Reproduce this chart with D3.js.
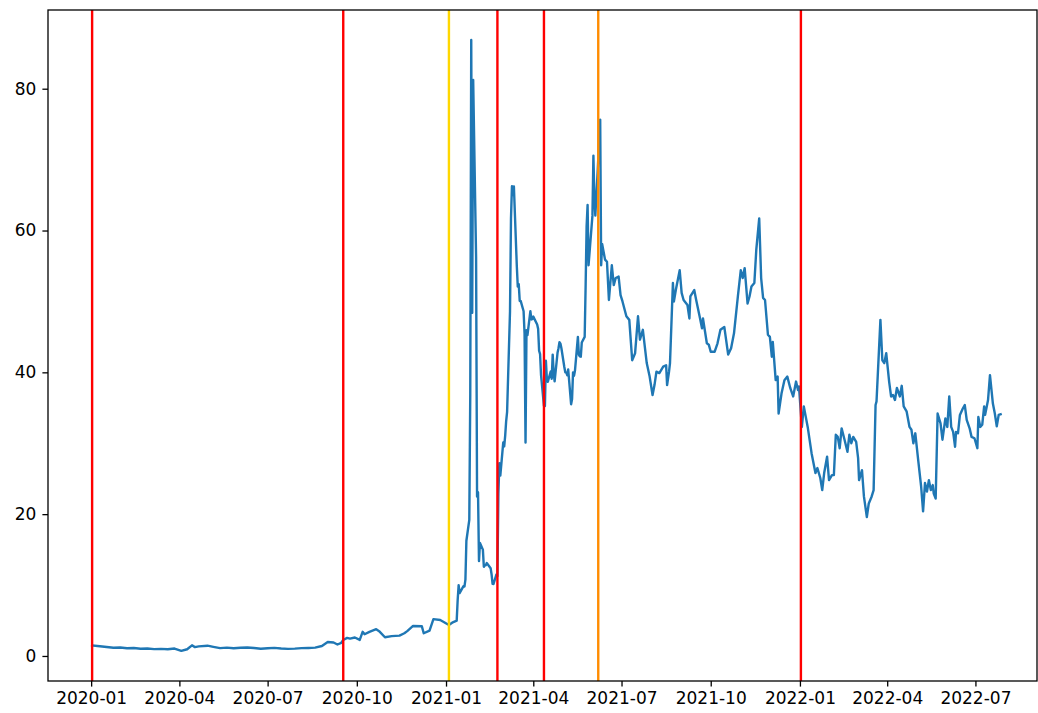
<!DOCTYPE html>
<html>
<head>
<meta charset="utf-8">
<script src="https://cdn.jsdelivr.net/npm/d3@7"></script>
<style>
  html, body { margin: 0; padding: 0; background: #ffffff; }
  svg { display: block; }
  .tick text { font-family: "DejaVu Sans", sans-serif; font-size: 17px; fill: #000; }
</style>
</head>
<body>
<svg id="chart" width="1038" height="713"></svg>
<script>
// Daily closing price (split-adjusted), sampled
const dates = [
  "2020-01-02","2020-01-10","2020-01-17","2020-01-24","2020-01-31","2020-02-07","2020-02-14","2020-02-21","2020-02-28",
  "2020-03-06","2020-03-13","2020-03-20","2020-03-27",
  "2020-04-03","2020-04-09","2020-04-14","2020-04-17","2020-04-21","2020-04-30","2020-05-06","2020-05-13","2020-05-20",
  "2020-05-27","2020-06-03","2020-06-10","2020-06-17","2020-06-24",
  "2020-07-01","2020-07-08","2020-07-15","2020-07-22","2020-07-29","2020-08-05","2020-08-12","2020-08-19","2020-08-26",
  "2020-09-01","2020-09-07","2020-09-11","2020-09-15","2020-09-17",
  "2020-09-21","2020-09-24","2020-09-29","2020-10-04","2020-10-07","2020-10-09","2020-10-14","2020-10-21","2020-10-24",
  "2020-10-30","2020-11-06","2020-11-14","2020-11-19","2020-11-22","2020-11-28","2020-12-07","2020-12-09","2020-12-15",
  "2020-12-19","2020-12-26","2021-01-04","2021-01-08","2021-01-12","2021-01-13","2021-01-14","2021-01-15","2021-01-19",
  "2021-01-20","2021-01-21","2021-01-22","2021-01-25","2021-01-26","2021-01-27","2021-01-28","2021-01-29","2021-02-01",
  "2021-02-02","2021-02-03","2021-02-04","2021-02-05","2021-02-08","2021-02-09","2021-02-10","2021-02-11","2021-02-12",
  "2021-02-16","2021-02-17","2021-02-18","2021-02-19","2021-02-22","2021-02-23","2021-02-24","2021-02-25","2021-02-26",
  "2021-03-01","2021-03-02","2021-03-03","2021-03-04","2021-03-05","2021-03-08","2021-03-09","2021-03-10","2021-03-11",
  "2021-03-12","2021-03-15","2021-03-16","2021-03-17","2021-03-18","2021-03-19","2021-03-22","2021-03-23","2021-03-24",
  "2021-03-25","2021-03-26","2021-03-29","2021-03-30","2021-03-31","2021-04-01","2021-04-05","2021-04-06","2021-04-07",
  "2021-04-08","2021-04-09","2021-04-12","2021-04-13","2021-04-14","2021-04-15","2021-04-16","2021-04-19","2021-04-20",
  "2021-04-21","2021-04-22","2021-04-23","2021-04-26","2021-04-27","2021-04-28","2021-04-29","2021-04-30","2021-05-03",
  "2021-05-04","2021-05-05","2021-05-06","2021-05-07","2021-05-10","2021-05-11","2021-05-12","2021-05-13","2021-05-14",
  "2021-05-17","2021-05-18","2021-05-19","2021-05-20","2021-05-21","2021-05-24","2021-05-25","2021-05-26","2021-05-27",
  "2021-05-28","2021-06-01","2021-06-02","2021-06-03","2021-06-04","2021-06-07","2021-06-08","2021-06-09","2021-06-10",
  "2021-06-11","2021-06-14","2021-06-16","2021-06-18","2021-06-21","2021-06-23","2021-06-25","2021-06-28","2021-06-30",
  "2021-07-02","2021-07-06","2021-07-09","2021-07-12","2021-07-15","2021-07-18","2021-07-20","2021-07-23","2021-07-27",
  "2021-07-30","2021-08-02","2021-08-04","2021-08-06","2021-08-09","2021-08-13","2021-08-16","2021-08-17","2021-08-19",
  "2021-08-20","2021-08-23","2021-08-24","2021-08-26","2021-08-30","2021-09-01","2021-09-03","2021-09-07","2021-09-09",
  "2021-09-10","2021-09-14","2021-09-16","2021-09-20","2021-09-22","2021-09-23","2021-09-27","2021-09-29","2021-10-01",
  "2021-10-05","2021-10-08","2021-10-11","2021-10-15","2021-10-19","2021-10-22","2021-10-25","2021-10-29","2021-11-01",
  "2021-11-03","2021-11-05","2021-11-08","2021-11-10","2021-11-12","2021-11-15","2021-11-17","2021-11-20","2021-11-22",
  "2021-11-24","2021-11-26","2021-11-29","2021-12-01","2021-12-03","2021-12-04","2021-12-07","2021-12-09","2021-12-10",
  "2021-12-13","2021-12-16","2021-12-19","2021-12-22","2021-12-25","2021-12-28","2021-12-30","2021-12-31","2022-01-03",
  "2022-01-05","2022-01-09","2022-01-13","2022-01-17","2022-01-19","2022-01-22","2022-01-24","2022-01-26","2022-01-29",
  "2022-01-31","2022-02-03","2022-02-05","2022-02-07","2022-02-09","2022-02-11","2022-02-13","2022-02-16","2022-02-19",
  "2022-02-21","2022-02-23","2022-02-25","2022-02-28","2022-03-02","2022-03-03","2022-03-06","2022-03-08","2022-03-11",
  "2022-03-13","2022-03-16","2022-03-18","2022-03-20","2022-03-21","2022-03-25","2022-03-27","2022-03-29","2022-03-31",
  "2022-04-03","2022-04-05","2022-04-07","2022-04-09","2022-04-11","2022-04-14","2022-04-16","2022-04-18","2022-04-21",
  "2022-04-24","2022-04-26","2022-04-28","2022-04-30","2022-05-03","2022-05-06","2022-05-08","2022-05-10","2022-05-12",
  "2022-05-14","2022-05-16","2022-05-18","2022-05-19","2022-05-21","2022-05-23","2022-05-26","2022-05-28","2022-05-31",
  "2022-06-02","2022-06-04","2022-06-06","2022-06-08","2022-06-10","2022-06-11","2022-06-13","2022-06-15","2022-06-18",
  "2022-06-20","2022-06-22","2022-06-25","2022-06-27","2022-06-30","2022-07-03","2022-07-04","2022-07-06","2022-07-08",
  "2022-07-10","2022-07-11","2022-07-14","2022-07-16","2022-07-19","2022-07-21","2022-07-23","2022-07-25","2022-07-27"
];
const prices = [
  1.50,1.38,1.27,1.15,1.20,1.08,1.12,1.02,1.05,
  0.96,1.00,0.95,1.05,
  0.72,0.95,1.50,1.25,1.35,1.45,1.28,1.10,1.18,
  1.08,1.15,1.20,1.12,1.02,
  1.08,1.14,1.05,1.00,1.03,1.10,1.13,1.18,1.40,
  1.97,1.90,1.62,1.86,2.26,
  2.55,2.45,2.60,2.26,3.40,3.06,3.40,3.77,3.50,
  2.64,2.80,2.87,3.20,3.50,4.23,4.20,3.20,3.57,
  5.20,5.07,4.37,4.75,4.99,7.85,9.98,8.87,9.84,
  9.78,10.76,16.25,19.20,36.99,86.88,48.40,81.25,56.25,
  22.50,23.10,13.38,15.94,15.00,12.58,12.80,12.78,13.10,
  12.38,11.49,10.17,10.15,11.50,11.24,22.93,27.18,25.44,
  30.10,29.55,31.05,33.09,34.44,48.63,61.73,66.25,65.01,
  66.20,55.00,52.09,52.45,50.07,50.07,48.62,45.44,30.09,
  45.94,45.25,48.62,47.46,47.50,47.86,46.74,46.13,43.05,
  42.57,39.59,35.27,35.25,41.63,39.11,38.67,40.13,39.10,
  42.50,40.00,38.72,42.75,43.40,44.25,44.05,43.40,40.75,
  40.00,40.00,39.60,40.40,35.50,36.25,40.00,39.50,40.25,
  45.00,42.50,42.25,42.20,44.20,45.00,52.35,60.64,63.60,
  55.10,62.10,70.56,64.55,62.10,70.00,75.00,75.64,55.10,
  58.10,55.90,55.60,50.20,55.10,52.30,53.30,53.50,50.90,
  50.00,47.90,47.40,41.70,42.70,47.90,44.60,46.00,41.30,
  39.40,36.80,38.20,40.10,39.90,40.80,41.00,38.20,40.10,
  41.30,52.60,50.00,51.60,54.40,51.20,50.20,49.50,47.60,
  50.70,51.60,50.20,47.60,46.20,47.60,44.10,43.90,42.90,
  42.90,44.10,46.00,46.40,42.50,43.40,45.50,50.70,54.40,
  53.30,54.70,49.70,50.70,52.10,52.60,57.30,61.70,53.30,
  50.50,50.20,45.30,45.00,42.20,44.30,38.90,39.40,34.20,
  37.00,38.90,39.40,37.80,36.60,38.70,37.50,38.00,32.30,
  35.20,32.30,28.60,25.80,26.50,25.10,23.40,25.80,28.10,
  24.80,25.50,25.50,31.20,30.90,29.30,32.10,30.50,28.80,
  31.20,30.00,30.90,30.20,27.90,24.80,26.20,22.50,19.60,
  21.50,22.50,23.40,35.40,35.90,47.40,41.70,41.30,42.70,
  38.70,36.60,36.80,36.10,37.80,36.60,38.10,35.20,34.50,
  32.30,31.90,30.00,31.40,27.60,23.90,20.40,24.40,23.20,
  24.80,23.40,24.10,22.90,22.20,34.20,32.80,30.50,33.50,
  32.30,36.60,32.30,31.60,29.50,31.60,31.40,34.00,34.90,
  35.40,33.30,32.10,30.90,30.70,29.30,33.70,32.30,32.60,
  35.20,34.00,36.10,39.60,35.60,34.20,32.40,34.00,34.10
];

// Marked event dates and their colours
const eventDates  = ["2020-01-02","2020-09-17","2021-01-04","2021-02-23","2021-04-12","2021-06-07","2022-01-02"];
const eventColors = ["#ff0000","#ff0000","#ffd700","#ff0000","#ff0000","#ff8c00","#ff0000"];

const yTicks = [0, 20, 40, 60, 80];
const xTicks = ["2020-01-01","2020-04-01","2020-07-01","2020-10-01","2021-01-01","2021-04-01",
                "2021-07-01","2021-10-01","2022-01-01","2022-04-01","2022-07-01"];

const parse = d3.utcParse("%Y-%m-%d");
const n = Math.min(dates.length, prices.length);
const series = d3.range(n).map(i => ({ date: parse(dates[i]), value: prices[i] }));

const svg = d3.select("#chart");
const plotL = 48, plotR = 1037, plotT = 10, plotB = 681;

const x = d3.scaleUtc()
  .domain([new Date(Date.UTC(2019, 10, 17, 12)), new Date(Date.UTC(2022, 8, 2, 12))])
  .range([plotL, plotR]);
const y = d3.scaleLinear()
  .domain([-3.53, 91.1])
  .range([plotB, plotT]);

svg.append("clipPath").attr("id", "plot-area")
  .append("rect").attr("x", plotL).attr("y", plotT)
  .attr("width", plotR - plotL).attr("height", plotB - plotT);

const plot = svg.append("g").attr("clip-path", "url(#plot-area)");

// price line
plot.append("path")
  .datum(series)
  .attr("fill", "none")
  .attr("stroke", "#1f77b4")
  .attr("stroke-width", 2.4)
  .attr("stroke-linejoin", "round")
  .attr("stroke-linecap", "square")
  .attr("d", d3.line().x(d => x(d.date)).y(d => y(d.value)));

// event markers
plot.selectAll("line.event")
  .data(eventDates)
  .join("line")
  .attr("class", "event")
  .attr("x1", d => x(parse(d))).attr("x2", d => x(parse(d)))
  .attr("y1", plotT).attr("y2", plotB)
  .attr("stroke", (d, i) => eventColors[i])
  .attr("stroke-width", 2.4);

// axes
const xAxis = d3.axisBottom(x)
  .tickValues(xTicks.map(parse))
  .tickFormat(d3.utcFormat("%Y-%m"))
  .tickSizeOuter(0).tickSize(5.6).tickPadding(5);
const yAxis = d3.axisLeft(y)
  .tickValues(yTicks)
  .tickFormat(d3.format("d"))
  .tickSizeOuter(0).tickSize(5.6).tickPadding(6);

const gx = svg.append("g").attr("transform", `translate(0,${plotB})`).call(xAxis);
const gy = svg.append("g").attr("transform", `translate(${plotL},0)`).call(yAxis);
[gx, gy].forEach(g => {
  g.select(".domain").remove();
  g.selectAll(".tick line").attr("stroke", "#000").attr("stroke-width", 1.3);
});

// frame
svg.append("rect")
  .attr("x", plotL).attr("y", plotT)
  .attr("width", plotR - plotL).attr("height", plotB - plotT)
  .attr("fill", "none").attr("stroke", "#000").attr("stroke-width", 1.3);
</script>
</body>
</html>
